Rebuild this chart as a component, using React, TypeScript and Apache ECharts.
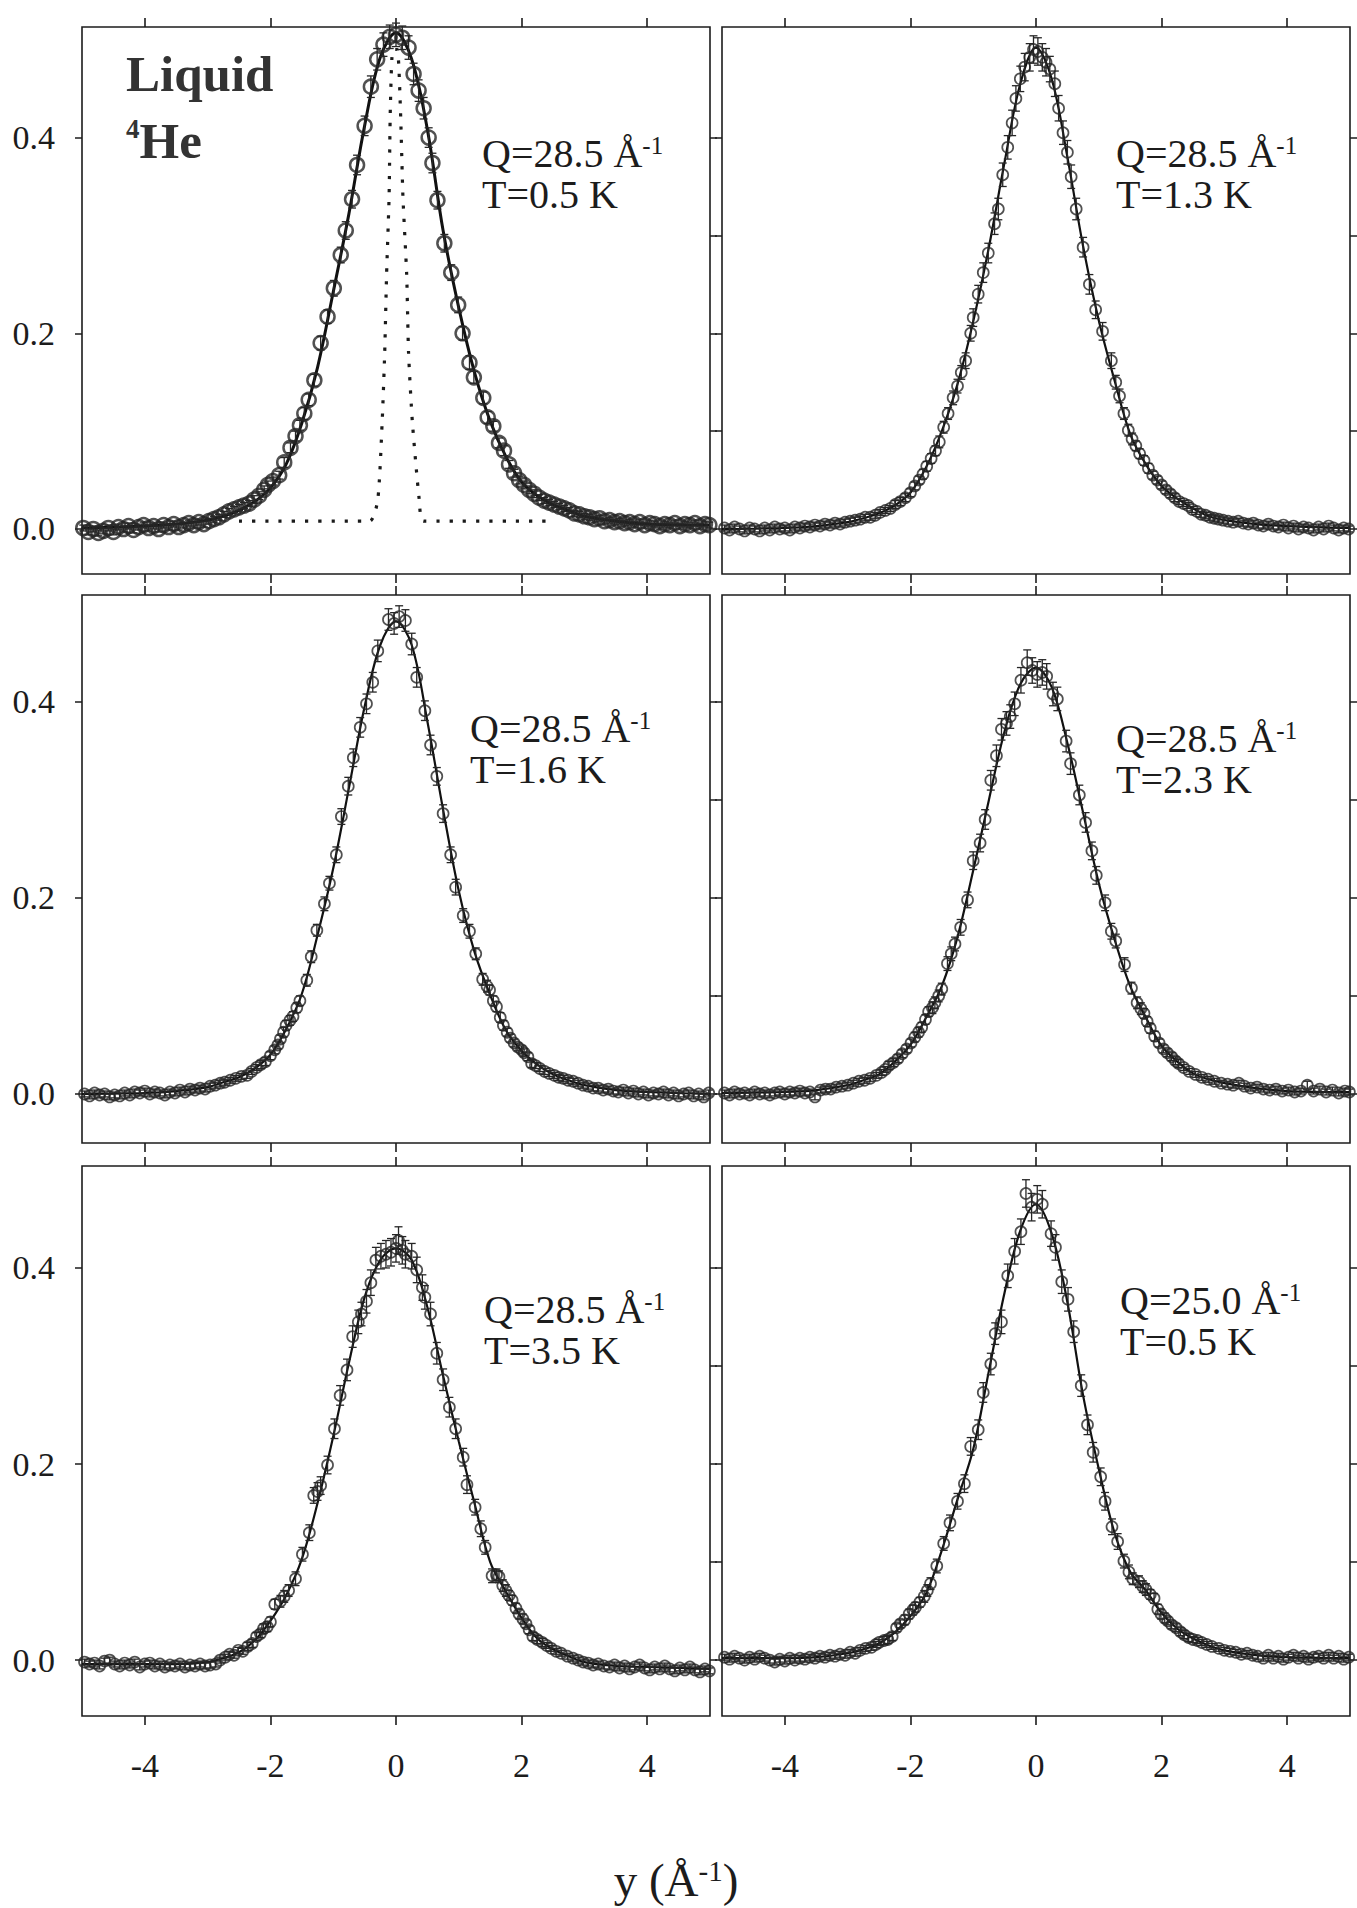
import React, { useEffect, useRef } from 'react';
import * as echarts from 'echarts';

type Pt = [number, number, number];
type Fp = [number, number];

const SERIF = '"Liberation Serif", "Times New Roman", serif';

const X_TICKS = [-4, -2, 0, 2, 4];
const Y_LABEL_TICKS = [0, 0.2, 0.4];
const Y_ALL_TICKS = [0, 0.1, 0.2, 0.3, 0.4];

const panelQ = ['28.5', '28.5', '28.5', '28.5', '28.5', '25.0'];
const panelT = ['0.5', '1.3', '1.6', '2.3', '3.5', '0.5'];

// ---------- Panel 1: Q=28.5, T=0.5 K ----------
const data_Q285_T05: Pt[] = [
  [-4.98, 0.001, 0.003], [-4.9, -0.003, 0.003], [-4.82, 0.0, 0.003], [-4.74, -0.004, 0.003], [-4.66, -0.002, 0.003],
  [-4.58, 0.001, 0.003], [-4.5, -0.003, 0.003], [-4.42, 0.002, 0.003], [-4.34, 0.0, 0.003], [-4.26, 0.003, 0.003],
  [-4.18, -0.001, 0.003], [-4.1, 0.002, 0.003], [-4.02, 0.004, 0.003], [-3.94, 0.001, 0.003], [-3.86, 0.003, 0.003],
  [-3.78, 0.0, 0.003], [-3.7, 0.004, 0.003], [-3.62, 0.002, 0.003], [-3.54, 0.005, 0.003], [-3.46, 0.002, 0.003],
  [-3.38, 0.004, 0.003], [-3.3, 0.006, 0.003], [-3.22, 0.004, 0.003], [-3.14, 0.007, 0.003], [-3.06, 0.005, 0.003],
  [-2.98, 0.008, 0.003], [-2.9, 0.01, 0.003], [-2.82, 0.012, 0.003], [-2.74, 0.015, 0.003], [-2.66, 0.018, 0.003],
  [-2.58, 0.02, 0.003], [-2.5, 0.022, 0.003], [-2.42, 0.024, 0.003], [-2.34, 0.026, 0.003], [-2.26, 0.03, 0.004],
  [-2.18, 0.034, 0.004], [-2.1, 0.04, 0.004], [-2.04, 0.045, 0.004], [-1.96, 0.049, 0.004], [-1.86, 0.055, 0.004],
  [-1.78, 0.068, 0.005], [-1.68, 0.083, 0.005], [-1.6, 0.095, 0.005], [-1.53, 0.106, 0.005], [-1.46, 0.118, 0.006],
  [-1.39, 0.132, 0.006], [-1.3, 0.152, 0.006], [-1.2, 0.19, 0.007], [-1.09, 0.217, 0.007], [-0.99, 0.246, 0.008],
  [-0.88, 0.28, 0.008], [-0.8, 0.305, 0.009], [-0.7, 0.337, 0.009], [-0.62, 0.372, 0.01], [-0.5, 0.412, 0.01],
  [-0.4, 0.452, 0.011], [-0.3, 0.48, 0.011], [-0.2, 0.495, 0.012], [-0.1, 0.503, 0.012], [0.0, 0.505, 0.012],
  [0.1, 0.502, 0.012], [0.2, 0.492, 0.012], [0.28, 0.465, 0.011], [0.36, 0.448, 0.011], [0.44, 0.43, 0.011],
  [0.52, 0.4, 0.01], [0.58, 0.374, 0.01], [0.66, 0.336, 0.009], [0.77, 0.292, 0.009], [0.88, 0.262, 0.008],
  [0.99, 0.229, 0.008], [1.06, 0.2, 0.007], [1.17, 0.17, 0.007], [1.24, 0.155, 0.006], [1.39, 0.134, 0.006],
  [1.46, 0.114, 0.006], [1.55, 0.105, 0.005], [1.64, 0.088, 0.005], [1.72, 0.08, 0.005], [1.8, 0.066, 0.004],
  [1.88, 0.057, 0.004], [1.96, 0.05, 0.004], [2.04, 0.045, 0.004], [2.12, 0.04, 0.004], [2.2, 0.036, 0.004],
  [2.28, 0.032, 0.003], [2.36, 0.029, 0.003], [2.44, 0.027, 0.003], [2.52, 0.025, 0.003], [2.6, 0.023, 0.003],
  [2.68, 0.021, 0.003], [2.76, 0.019, 0.003], [2.84, 0.016, 0.003], [2.92, 0.015, 0.003], [3.0, 0.013, 0.003],
  [3.08, 0.012, 0.003], [3.16, 0.01, 0.003], [3.24, 0.011, 0.003], [3.32, 0.008, 0.003], [3.4, 0.009, 0.003],
  [3.48, 0.007, 0.003], [3.56, 0.008, 0.003], [3.64, 0.006, 0.003], [3.72, 0.007, 0.003], [3.8, 0.005, 0.003],
  [3.88, 0.007, 0.003], [3.96, 0.004, 0.003], [4.04, 0.006, 0.003], [4.12, 0.005, 0.003], [4.2, 0.003, 0.003],
  [4.28, 0.005, 0.003], [4.36, 0.004, 0.003], [4.44, 0.006, 0.003], [4.52, 0.003, 0.003], [4.6, 0.005, 0.003],
  [4.68, 0.004, 0.003], [4.76, 0.006, 0.003], [4.84, 0.003, 0.003], [4.92, 0.005, 0.003], [4.99, 0.004, 0.003],
];
const fit_Q285_T05: Fp[] = [
  [-5, 0.001], [-4, 0.003], [-3.5, 0.005], [-3, 0.009], [-2.75, 0.013], [-2.5, 0.019], [-2.25, 0.028], [-2, 0.042],
  [-1.75, 0.066], [-1.5, 0.108], [-1.25, 0.165], [-1, 0.242], [-0.75, 0.322], [-0.5, 0.412], [-0.25, 0.482],
  [0, 0.507], [0.25, 0.48], [0.5, 0.408], [0.75, 0.305], [1, 0.226], [1.25, 0.16], [1.5, 0.11], [1.75, 0.074],
  [2, 0.048], [2.25, 0.034], [2.5, 0.025], [2.75, 0.019], [3, 0.013], [3.5, 0.008], [4, 0.005], [5, 0.004],
];
const condensate_Q285_T05: Fp[] = [
  [-2.5, 0.008], [-0.42, 0.008], [-0.29, 0.03], [-0.22, 0.11], [-0.18, 0.18], [-0.15, 0.26], [-0.11, 0.34],
  [-0.09, 0.43], [-0.05, 0.49], [0.02, 0.49], [0.07, 0.43], [0.11, 0.34], [0.17, 0.26], [0.2, 0.18], [0.26, 0.11],
  [0.37, 0.03], [0.44, 0.008], [2.5, 0.008],
];

// ---------- Panel 2: Q=28.5, T=1.3 K ----------
const data_Q285_T13: Pt[] = [
  [-4.96, 0.001, 0.003], [-4.88, -0.001, 0.003], [-4.8, 0.002, 0.003], [-4.72, 0.0, 0.003], [-4.64, -0.002, 0.003],
  [-4.56, 0.001, 0.003], [-4.48, 0.0, 0.003], [-4.4, -0.002, 0.003], [-4.32, 0.001, 0.003], [-4.24, -0.001, 0.003],
  [-4.16, 0.002, 0.003], [-4.08, 0.0, 0.003], [-4.0, 0.001, 0.003], [-3.92, -0.001, 0.003], [-3.84, 0.002, 0.003],
  [-3.76, 0.001, 0.003], [-3.68, 0.003, 0.003], [-3.6, 0.002, 0.003], [-3.52, 0.004, 0.003], [-3.44, 0.003, 0.003],
  [-3.36, 0.005, 0.003], [-3.28, 0.004, 0.003], [-3.2, 0.006, 0.003], [-3.12, 0.005, 0.003], [-3.04, 0.007, 0.003],
  [-2.96, 0.008, 0.003], [-2.88, 0.009, 0.003], [-2.8, 0.01, 0.003], [-2.72, 0.012, 0.003], [-2.64, 0.012, 0.003],
  [-2.56, 0.014, 0.003], [-2.48, 0.017, 0.003], [-2.4, 0.019, 0.003], [-2.32, 0.021, 0.003], [-2.24, 0.025, 0.004],
  [-2.16, 0.028, 0.004], [-2.08, 0.032, 0.004], [-2.0, 0.037, 0.004], [-1.93, 0.044, 0.004], [-1.86, 0.05, 0.004],
  [-1.8, 0.056, 0.005], [-1.74, 0.064, 0.005], [-1.67, 0.072, 0.005], [-1.6, 0.08, 0.005], [-1.54, 0.089, 0.006],
  [-1.47, 0.104, 0.006], [-1.4, 0.118, 0.006], [-1.32, 0.134, 0.007], [-1.25, 0.146, 0.007], [-1.19, 0.16, 0.007],
  [-1.12, 0.172, 0.008], [-1.04, 0.2, 0.008], [-1.0, 0.216, 0.009], [-0.92, 0.24, 0.009], [-0.84, 0.262, 0.01],
  [-0.76, 0.282, 0.01], [-0.66, 0.312, 0.011], [-0.6, 0.327, 0.011], [-0.53, 0.362, 0.012], [-0.45, 0.39, 0.012],
  [-0.38, 0.415, 0.013], [-0.32, 0.44, 0.013], [-0.25, 0.46, 0.013], [-0.18, 0.472, 0.014], [-0.1, 0.482, 0.014],
  [-0.04, 0.49, 0.014], [0.03, 0.488, 0.014], [0.1, 0.482, 0.014], [0.16, 0.477, 0.014], [0.22, 0.47, 0.013],
  [0.3, 0.455, 0.013], [0.36, 0.43, 0.013], [0.43, 0.405, 0.012], [0.5, 0.385, 0.012], [0.56, 0.36, 0.012],
  [0.64, 0.327, 0.011], [0.75, 0.288, 0.01], [0.85, 0.25, 0.01], [0.95, 0.224, 0.009], [1.06, 0.202, 0.009],
  [1.2, 0.172, 0.008], [1.27, 0.15, 0.007], [1.33, 0.136, 0.007], [1.4, 0.118, 0.006], [1.47, 0.101, 0.006],
  [1.53, 0.092, 0.006], [1.59, 0.085, 0.005], [1.65, 0.077, 0.005], [1.72, 0.07, 0.005], [1.79, 0.062, 0.005],
  [1.86, 0.055, 0.004], [1.93, 0.05, 0.004], [2.0, 0.045, 0.004], [2.07, 0.04, 0.004], [2.14, 0.036, 0.004],
  [2.21, 0.032, 0.004], [2.28, 0.028, 0.003], [2.35, 0.026, 0.003], [2.42, 0.024, 0.003], [2.49, 0.02, 0.003],
  [2.56, 0.018, 0.003], [2.63, 0.015, 0.003], [2.7, 0.014, 0.003], [2.77, 0.012, 0.003], [2.84, 0.011, 0.003],
  [2.91, 0.01, 0.003], [2.98, 0.009, 0.003], [3.06, 0.008, 0.003], [3.14, 0.007, 0.003], [3.22, 0.008, 0.003],
  [3.3, 0.006, 0.003], [3.38, 0.005, 0.003], [3.46, 0.006, 0.003], [3.54, 0.004, 0.003], [3.62, 0.003, 0.003],
  [3.7, 0.005, 0.003], [3.78, 0.003, 0.003], [3.86, 0.002, 0.003], [3.94, 0.004, 0.003], [4.02, 0.001, 0.003],
  [4.1, 0.003, 0.003], [4.18, 0.0, 0.003], [4.26, 0.002, 0.003], [4.34, 0.001, 0.003], [4.42, -0.001, 0.003],
  [4.5, 0.002, 0.003], [4.58, 0.0, 0.003], [4.66, 0.003, 0.003], [4.74, 0.001, 0.003], [4.82, -0.001, 0.003],
  [4.9, 0.001, 0.003], [4.98, 0.0, 0.003],
];
const fit_Q285_T13: Fp[] = [
  [-5, 0.0], [-4, 0.001], [-3.5, 0.003], [-3, 0.007], [-2.75, 0.011], [-2.5, 0.016], [-2.25, 0.024], [-2, 0.037],
  [-1.75, 0.063], [-1.5, 0.1], [-1.25, 0.148], [-1, 0.212], [-0.75, 0.288], [-0.5, 0.375], [-0.25, 0.455],
  [0, 0.492], [0.25, 0.46], [0.5, 0.38], [0.75, 0.289], [1, 0.213], [1.25, 0.152], [1.5, 0.097], [1.75, 0.066],
  [2, 0.044], [2.25, 0.031], [2.5, 0.021], [2.75, 0.013], [3, 0.009], [3.5, 0.005], [4, 0.003], [5, 0.001],
];

// ---------- Panel 3: Q=28.5, T=1.6 K ----------
const data_Q285_T16: Pt[] = [
  [-4.96, 0.0, 0.003], [-4.88, -0.002, 0.003], [-4.8, 0.001, 0.003], [-4.72, -0.001, 0.003], [-4.64, 0.0, 0.003],
  [-4.56, -0.003, 0.003], [-4.48, -0.001, 0.003], [-4.4, -0.002, 0.003], [-4.32, 0.001, 0.003], [-4.24, -0.001, 0.003],
  [-4.16, 0.002, 0.003], [-4.08, 0.001, 0.003], [-4.0, 0.003, 0.003], [-3.92, 0.0, 0.003], [-3.84, 0.002, 0.003],
  [-3.76, 0.001, 0.003], [-3.68, -0.001, 0.003], [-3.6, 0.002, 0.003], [-3.52, 0.001, 0.003], [-3.44, 0.004, 0.003],
  [-3.36, 0.002, 0.003], [-3.28, 0.005, 0.003], [-3.2, 0.004, 0.003], [-3.12, 0.006, 0.003], [-3.04, 0.005, 0.003],
  [-2.96, 0.008, 0.003], [-2.88, 0.009, 0.003], [-2.8, 0.011, 0.003], [-2.73, 0.012, 0.003], [-2.64, 0.014, 0.003],
  [-2.55, 0.016, 0.003], [-2.46, 0.018, 0.003], [-2.37, 0.019, 0.003], [-2.3, 0.023, 0.003], [-2.22, 0.027, 0.003],
  [-2.15, 0.03, 0.004], [-2.08, 0.033, 0.004], [-2.0, 0.039, 0.004], [-1.93, 0.045, 0.004], [-1.88, 0.05, 0.004],
  [-1.84, 0.056, 0.004], [-1.79, 0.063, 0.005], [-1.75, 0.07, 0.005], [-1.69, 0.075, 0.005], [-1.64, 0.079, 0.005],
  [-1.58, 0.088, 0.005], [-1.53, 0.095, 0.005], [-1.42, 0.116, 0.006], [-1.35, 0.14, 0.006], [-1.26, 0.167, 0.006],
  [-1.14, 0.194, 0.007], [-1.06, 0.215, 0.007], [-0.95, 0.244, 0.008], [-0.87, 0.283, 0.008], [-0.76, 0.314, 0.009],
  [-0.68, 0.343, 0.009], [-0.57, 0.374, 0.01], [-0.47, 0.398, 0.01], [-0.37, 0.42, 0.01], [-0.29, 0.452, 0.011],
  [-0.12, 0.484, 0.011], [-0.03, 0.48, 0.011], [0.05, 0.487, 0.011], [0.15, 0.483, 0.011], [0.25, 0.459, 0.011],
  [0.33, 0.425, 0.01], [0.46, 0.391, 0.01], [0.55, 0.356, 0.01], [0.65, 0.324, 0.009], [0.75, 0.286, 0.009],
  [0.87, 0.244, 0.008], [0.95, 0.211, 0.008], [1.07, 0.182, 0.007], [1.17, 0.166, 0.007], [1.27, 0.143, 0.006],
  [1.38, 0.117, 0.006], [1.45, 0.11, 0.006], [1.49, 0.106, 0.005], [1.55, 0.095, 0.005], [1.6, 0.089, 0.005],
  [1.66, 0.078, 0.005], [1.71, 0.07, 0.005], [1.77, 0.063, 0.004], [1.82, 0.057, 0.004], [1.88, 0.052, 0.004],
  [1.94, 0.048, 0.004], [2.0, 0.045, 0.004], [2.04, 0.042, 0.004], [2.1, 0.038, 0.004], [2.16, 0.031, 0.004],
  [2.22, 0.029, 0.003], [2.29, 0.026, 0.003], [2.37, 0.023, 0.003], [2.44, 0.021, 0.003], [2.52, 0.019, 0.003],
  [2.59, 0.017, 0.003], [2.66, 0.016, 0.003], [2.74, 0.014, 0.003], [2.82, 0.013, 0.003], [2.9, 0.011, 0.003],
  [2.98, 0.009, 0.003], [3.06, 0.008, 0.003], [3.14, 0.006, 0.003], [3.22, 0.006, 0.003], [3.3, 0.004, 0.003],
  [3.38, 0.005, 0.003], [3.46, 0.003, 0.003], [3.54, 0.002, 0.003], [3.62, 0.004, 0.003], [3.7, 0.001, 0.003],
  [3.78, 0.003, 0.003], [3.86, 0.0, 0.003], [3.94, 0.002, 0.003], [4.02, -0.001, 0.003], [4.1, 0.001, 0.003],
  [4.18, 0.0, 0.003], [4.26, 0.002, 0.003], [4.34, -0.001, 0.003], [4.42, 0.001, 0.003], [4.5, -0.002, 0.003],
  [4.58, 0.0, 0.003], [4.66, 0.001, 0.003], [4.74, -0.002, 0.003], [4.82, 0.0, 0.003], [4.9, -0.003, 0.003],
  [4.98, 0.001, 0.003],
];
const fit_Q285_T16: Fp[] = [
  [-5, 0.0], [-4, 0.001], [-3.5, 0.003], [-3, 0.007], [-2.75, 0.012], [-2.5, 0.017], [-2.25, 0.026], [-2, 0.04],
  [-1.75, 0.066], [-1.5, 0.102], [-1.25, 0.162], [-1, 0.23], [-0.75, 0.312], [-0.5, 0.395], [-0.25, 0.458],
  [0, 0.482], [0.25, 0.458], [0.5, 0.38], [0.75, 0.29], [1, 0.207], [1.25, 0.145], [1.5, 0.101], [1.75, 0.065],
  [2, 0.044], [2.25, 0.03], [2.5, 0.02], [2.75, 0.014], [3, 0.009], [3.5, 0.004], [4, 0.002], [5, 0.0],
];

// ---------- Panel 4: Q=28.5, T=2.3 K ----------
const data_Q285_T23: Pt[] = [
  [-4.96, 0.001, 0.003], [-4.88, -0.001, 0.003], [-4.8, 0.002, 0.003], [-4.72, 0.0, 0.003], [-4.64, 0.001, 0.003],
  [-4.56, -0.001, 0.003], [-4.48, 0.002, 0.003], [-4.4, 0.0, 0.003], [-4.32, 0.001, 0.003], [-4.24, -0.001, 0.003],
  [-4.16, 0.001, 0.003], [-4.08, 0.002, 0.003], [-4.0, 0.0, 0.003], [-3.92, 0.002, 0.003], [-3.84, 0.001, 0.003],
  [-3.76, 0.003, 0.003], [-3.68, 0.001, 0.003], [-3.6, 0.002, 0.003], [-3.52, -0.003, 0.003], [-3.43, 0.004, 0.003],
  [-3.35, 0.005, 0.003], [-3.27, 0.005, 0.003], [-3.18, 0.007, 0.003], [-3.09, 0.008, 0.003], [-3.0, 0.009, 0.003],
  [-2.91, 0.011, 0.003], [-2.82, 0.013, 0.003], [-2.73, 0.014, 0.003], [-2.64, 0.016, 0.003], [-2.54, 0.019, 0.003],
  [-2.46, 0.022, 0.003], [-2.4, 0.025, 0.003], [-2.34, 0.029, 0.004], [-2.27, 0.032, 0.004], [-2.2, 0.036, 0.004],
  [-2.13, 0.041, 0.004], [-2.06, 0.046, 0.004], [-1.99, 0.052, 0.004], [-1.93, 0.058, 0.005], [-1.87, 0.063, 0.005],
  [-1.82, 0.068, 0.005], [-1.76, 0.076, 0.005], [-1.71, 0.084, 0.005], [-1.65, 0.088, 0.006], [-1.61, 0.093, 0.006],
  [-1.55, 0.1, 0.006], [-1.5, 0.107, 0.006], [-1.41, 0.133, 0.007], [-1.35, 0.143, 0.007], [-1.29, 0.153, 0.007],
  [-1.2, 0.17, 0.008], [-1.09, 0.198, 0.008], [-1.0, 0.238, 0.009], [-0.89, 0.256, 0.009], [-0.81, 0.28, 0.01],
  [-0.72, 0.32, 0.01], [-0.63, 0.345, 0.011], [-0.55, 0.372, 0.011], [-0.47, 0.378, 0.012], [-0.41, 0.385, 0.012],
  [-0.34, 0.398, 0.012], [-0.24, 0.422, 0.013], [-0.14, 0.44, 0.013], [-0.06, 0.432, 0.013], [0.02, 0.428, 0.013],
  [0.1, 0.43, 0.013], [0.17, 0.426, 0.013], [0.27, 0.408, 0.012], [0.34, 0.403, 0.012], [0.48, 0.36, 0.011],
  [0.55, 0.337, 0.011], [0.69, 0.305, 0.01], [0.79, 0.277, 0.01], [0.89, 0.248, 0.009], [0.96, 0.223, 0.009],
  [1.1, 0.195, 0.008], [1.2, 0.166, 0.008], [1.27, 0.156, 0.007], [1.41, 0.132, 0.007], [1.52, 0.108, 0.006],
  [1.61, 0.093, 0.006], [1.67, 0.087, 0.006], [1.72, 0.082, 0.005], [1.77, 0.074, 0.005], [1.82, 0.067, 0.005],
  [1.89, 0.059, 0.005], [1.96, 0.052, 0.004], [2.03, 0.046, 0.004], [2.09, 0.042, 0.004], [2.16, 0.038, 0.004],
  [2.22, 0.034, 0.004], [2.27, 0.031, 0.004], [2.35, 0.027, 0.003], [2.44, 0.023, 0.003], [2.54, 0.02, 0.003],
  [2.64, 0.017, 0.003], [2.74, 0.015, 0.003], [2.84, 0.013, 0.003], [2.95, 0.011, 0.003], [3.05, 0.01, 0.003],
  [3.14, 0.009, 0.003], [3.23, 0.011, 0.003], [3.32, 0.008, 0.003], [3.42, 0.006, 0.003], [3.52, 0.007, 0.003],
  [3.62, 0.005, 0.003], [3.72, 0.004, 0.003], [3.82, 0.005, 0.003], [3.92, 0.003, 0.003], [4.02, 0.004, 0.003],
  [4.12, 0.002, 0.003], [4.22, 0.003, 0.003], [4.32, 0.009, 0.004], [4.42, 0.003, 0.003], [4.52, 0.005, 0.003],
  [4.62, 0.002, 0.003], [4.72, 0.004, 0.003], [4.82, 0.001, 0.003], [4.92, 0.003, 0.003], [4.99, 0.002, 0.003],
];
const fit_Q285_T23: Fp[] = [
  [-5, 0.001], [-4, 0.002], [-3.5, 0.004], [-3, 0.009], [-2.75, 0.014], [-2.5, 0.02], [-2.25, 0.033], [-2, 0.05],
  [-1.75, 0.078], [-1.5, 0.11], [-1.25, 0.16], [-1, 0.228], [-0.75, 0.3], [-0.5, 0.37], [-0.25, 0.418],
  [0, 0.435], [0.25, 0.415], [0.5, 0.358], [0.75, 0.287], [1, 0.215], [1.25, 0.158], [1.5, 0.11], [1.75, 0.078],
  [2, 0.049], [2.25, 0.033], [2.5, 0.021], [2.75, 0.015], [3, 0.011], [3.5, 0.006], [4, 0.003], [5, 0.002],
];

// ---------- Panel 5: Q=28.5, T=3.5 K ----------
const data_Q285_T35: Pt[] = [
  [-4.96, -0.002, 0.003], [-4.88, -0.004, 0.003], [-4.8, -0.003, 0.003], [-4.72, -0.006, 0.003], [-4.64, -0.001, 0.003],
  [-4.56, 0.0, 0.003], [-4.48, -0.004, 0.003], [-4.4, -0.006, 0.003], [-4.32, -0.003, 0.003], [-4.24, -0.005, 0.003],
  [-4.16, -0.002, 0.003], [-4.08, -0.007, 0.003], [-4.0, -0.004, 0.003], [-3.92, -0.003, 0.003], [-3.84, -0.006, 0.003],
  [-3.76, -0.004, 0.003], [-3.68, -0.007, 0.003], [-3.6, -0.005, 0.003], [-3.52, -0.006, 0.003], [-3.44, -0.004, 0.003],
  [-3.36, -0.007, 0.003], [-3.28, -0.005, 0.003], [-3.2, -0.006, 0.003], [-3.12, -0.004, 0.003], [-3.04, -0.006, 0.003],
  [-2.96, -0.005, 0.003], [-2.87, -0.004, 0.003], [-2.8, 0.0, 0.003], [-2.72, 0.003, 0.003], [-2.65, 0.006, 0.003],
  [-2.58, 0.005, 0.003], [-2.51, 0.01, 0.003], [-2.44, 0.009, 0.003], [-2.36, 0.014, 0.004], [-2.29, 0.017, 0.004],
  [-2.22, 0.024, 0.004], [-2.16, 0.027, 0.004], [-2.11, 0.032, 0.005], [-2.05, 0.034, 0.005], [-2.0, 0.039, 0.005],
  [-1.93, 0.057, 0.005], [-1.84, 0.06, 0.006], [-1.78, 0.065, 0.006], [-1.71, 0.071, 0.006], [-1.6, 0.083, 0.007],
  [-1.49, 0.108, 0.007], [-1.38, 0.13, 0.008], [-1.31, 0.168, 0.008], [-1.25, 0.172, 0.009], [-1.2, 0.178, 0.009],
  [-1.09, 0.199, 0.009], [-0.98, 0.236, 0.01], [-0.89, 0.27, 0.01], [-0.78, 0.296, 0.011], [-0.69, 0.33, 0.011],
  [-0.6, 0.345, 0.012], [-0.55, 0.353, 0.012], [-0.47, 0.366, 0.012], [-0.4, 0.385, 0.013], [-0.32, 0.408, 0.013],
  [-0.24, 0.412, 0.013], [-0.16, 0.414, 0.014], [-0.08, 0.416, 0.014], [0.0, 0.42, 0.014], [0.04, 0.428, 0.014],
  [0.1, 0.418, 0.014], [0.15, 0.414, 0.014], [0.25, 0.412, 0.013], [0.33, 0.398, 0.013], [0.42, 0.38, 0.013],
  [0.46, 0.37, 0.012], [0.55, 0.353, 0.012], [0.65, 0.313, 0.011], [0.75, 0.286, 0.011], [0.85, 0.258, 0.01],
  [0.95, 0.236, 0.01], [1.07, 0.207, 0.009], [1.13, 0.179, 0.009], [1.26, 0.156, 0.008], [1.35, 0.134, 0.008],
  [1.42, 0.115, 0.007], [1.53, 0.086, 0.007], [1.6, 0.087, 0.006], [1.64, 0.085, 0.006], [1.7, 0.076, 0.006],
  [1.75, 0.071, 0.006], [1.8, 0.066, 0.005], [1.85, 0.061, 0.005], [1.91, 0.053, 0.005], [1.96, 0.047, 0.005],
  [2.02, 0.042, 0.005], [2.07, 0.037, 0.004], [2.12, 0.031, 0.004], [2.18, 0.024, 0.004], [2.25, 0.021, 0.004],
  [2.33, 0.018, 0.004], [2.4, 0.015, 0.003], [2.47, 0.012, 0.003], [2.55, 0.009, 0.003], [2.63, 0.007, 0.003],
  [2.73, 0.004, 0.003], [2.82, 0.002, 0.003], [2.9, 0.0, 0.003], [2.98, -0.002, 0.003], [3.06, -0.003, 0.003],
  [3.14, -0.005, 0.003], [3.22, -0.004, 0.003], [3.31, -0.006, 0.003], [3.4, -0.007, 0.003], [3.48, -0.005, 0.003],
  [3.56, -0.008, 0.003], [3.64, -0.006, 0.003], [3.72, -0.009, 0.003], [3.8, -0.007, 0.003], [3.88, -0.005, 0.003],
  [3.96, -0.008, 0.003], [4.04, -0.01, 0.003], [4.12, -0.007, 0.003], [4.2, -0.009, 0.003], [4.28, -0.006, 0.003],
  [4.36, -0.009, 0.003], [4.44, -0.011, 0.003], [4.52, -0.008, 0.003], [4.6, -0.01, 0.003], [4.68, -0.007, 0.003],
  [4.76, -0.01, 0.003], [4.84, -0.012, 0.003], [4.92, -0.009, 0.003], [4.99, -0.011, 0.003],
];
const fit_Q285_T35: Fp[] = [
  [-5, -0.004], [-4, -0.004], [-3.5, -0.004], [-3, -0.002], [-2.75, 0.002], [-2.5, 0.008], [-2.25, 0.02], [-2, 0.04],
  [-1.75, 0.066], [-1.5, 0.103], [-1.25, 0.16], [-1, 0.228], [-0.75, 0.303], [-0.5, 0.37], [-0.25, 0.408],
  [0, 0.42], [0.25, 0.408], [0.5, 0.36], [0.75, 0.29], [1, 0.223], [1.25, 0.16], [1.5, 0.1], [1.75, 0.07],
  [2, 0.043], [2.25, 0.022], [2.5, 0.011], [2.75, 0.004], [3, -0.002], [3.5, -0.006], [4, -0.007], [5, -0.009],
];

// ---------- Panel 6: Q=25.0, T=0.5 K ----------
const data_Q250_T05: Pt[] = [
  [-4.96, 0.003, 0.003], [-4.88, 0.001, 0.003], [-4.8, 0.004, 0.003], [-4.72, 0.002, 0.003], [-4.64, 0.0, 0.003],
  [-4.56, 0.003, 0.003], [-4.48, 0.001, 0.003], [-4.4, 0.004, 0.003], [-4.32, 0.002, 0.003], [-4.24, 0.0, 0.003],
  [-4.16, -0.002, 0.003], [-4.08, 0.001, 0.003], [-4.0, -0.001, 0.003], [-3.92, 0.002, 0.003], [-3.84, 0.0, 0.003],
  [-3.76, 0.002, 0.003], [-3.68, 0.001, 0.003], [-3.6, 0.003, 0.003], [-3.52, 0.002, 0.003], [-3.44, 0.004, 0.003],
  [-3.36, 0.003, 0.003], [-3.28, 0.005, 0.003], [-3.2, 0.004, 0.003], [-3.12, 0.006, 0.003], [-3.04, 0.005, 0.003],
  [-2.96, 0.008, 0.003], [-2.88, 0.007, 0.003], [-2.8, 0.01, 0.003], [-2.71, 0.012, 0.003], [-2.62, 0.013, 0.003],
  [-2.55, 0.016, 0.003], [-2.5, 0.018, 0.003], [-2.42, 0.02, 0.004], [-2.36, 0.021, 0.004], [-2.29, 0.024, 0.004],
  [-2.22, 0.033, 0.004], [-2.16, 0.037, 0.004], [-2.09, 0.041, 0.005], [-2.02, 0.047, 0.005], [-1.96, 0.051, 0.005],
  [-1.92, 0.054, 0.005], [-1.85, 0.059, 0.005], [-1.78, 0.065, 0.006], [-1.73, 0.071, 0.006], [-1.68, 0.078, 0.006],
  [-1.58, 0.096, 0.007], [-1.47, 0.119, 0.007], [-1.37, 0.14, 0.008], [-1.25, 0.162, 0.008], [-1.14, 0.18, 0.009],
  [-1.04, 0.218, 0.009], [-0.92, 0.235, 0.01], [-0.84, 0.273, 0.01], [-0.72, 0.302, 0.011], [-0.65, 0.333, 0.011],
  [-0.55, 0.345, 0.012], [-0.45, 0.392, 0.012], [-0.34, 0.417, 0.013], [-0.24, 0.437, 0.013], [-0.16, 0.476, 0.014],
  [-0.07, 0.462, 0.014], [0.02, 0.47, 0.014], [0.1, 0.465, 0.014], [0.24, 0.435, 0.013], [0.31, 0.421, 0.013],
  [0.41, 0.386, 0.012], [0.51, 0.368, 0.012], [0.6, 0.335, 0.011], [0.72, 0.28, 0.011], [0.82, 0.24, 0.01],
  [0.91, 0.212, 0.01], [1.03, 0.187, 0.009], [1.1, 0.162, 0.009], [1.21, 0.136, 0.008], [1.3, 0.121, 0.008],
  [1.4, 0.101, 0.007], [1.48, 0.09, 0.007], [1.54, 0.083, 0.006], [1.64, 0.08, 0.006], [1.7, 0.075, 0.006],
  [1.75, 0.072, 0.006], [1.82, 0.067, 0.005], [1.88, 0.063, 0.005], [1.94, 0.052, 0.005], [1.99, 0.047, 0.005],
  [2.05, 0.043, 0.005], [2.1, 0.04, 0.004], [2.16, 0.036, 0.004], [2.23, 0.033, 0.004], [2.3, 0.029, 0.004],
  [2.36, 0.026, 0.004], [2.43, 0.023, 0.004], [2.5, 0.021, 0.003], [2.57, 0.02, 0.003], [2.64, 0.018, 0.003],
  [2.72, 0.016, 0.003], [2.8, 0.014, 0.003], [2.91, 0.012, 0.003], [3.0, 0.01, 0.003], [3.09, 0.009, 0.003],
  [3.18, 0.008, 0.003], [3.27, 0.006, 0.003], [3.36, 0.007, 0.003], [3.45, 0.005, 0.003], [3.53, 0.004, 0.003],
  [3.62, 0.002, 0.003], [3.7, 0.005, 0.003], [3.78, 0.002, 0.003], [3.86, 0.004, 0.003], [3.94, 0.001, 0.003],
  [4.02, 0.003, 0.003], [4.1, 0.005, 0.003], [4.18, 0.002, 0.003], [4.26, 0.004, 0.003], [4.34, 0.001, 0.003],
  [4.42, 0.003, 0.003], [4.5, 0.004, 0.003], [4.58, 0.002, 0.003], [4.66, 0.005, 0.003], [4.74, 0.002, 0.003],
  [4.82, 0.004, 0.003], [4.9, 0.001, 0.003], [4.98, 0.003, 0.003],
];
const fit_Q250_T05: Fp[] = [
  [-5, 0.002], [-4, 0.002], [-3.5, 0.003], [-3, 0.007], [-2.75, 0.011], [-2.5, 0.017], [-2.25, 0.028], [-2, 0.045],
  [-1.75, 0.068], [-1.5, 0.112], [-1.25, 0.164], [-1, 0.215], [-0.75, 0.295], [-0.5, 0.375], [-0.25, 0.438],
  [0, 0.465], [0.25, 0.435], [0.5, 0.365], [0.75, 0.27], [1, 0.195], [1.25, 0.13], [1.5, 0.09], [1.75, 0.071],
  [2, 0.048], [2.25, 0.032], [2.5, 0.022], [2.75, 0.015], [3, 0.01], [3.5, 0.005], [4, 0.003], [5, 0.002],
];

const panelData = [data_Q285_T05, data_Q285_T13, data_Q285_T16, data_Q285_T23, data_Q285_T35, data_Q250_T05];
const panelFit = [fit_Q285_T05, fit_Q285_T13, fit_Q285_T16, fit_Q285_T23, fit_Q285_T35, fit_Q250_T05];

// y-axis ranges per row, read from the frame edges
const rowYMin = [-0.046, -0.05, -0.057];
const rowYMax = [0.513, 0.509, 0.504];

// ---------- layout (not data) ----------
const COL_LEFT = [82, 722];
const PANEL_W = 628;
const ROW_TOP = [27, 595, 1166];
const ROW_H = [547, 548, 550];
const LABEL_POS: [number, number][] = [
  [482, 153], [1116, 153], [470, 728], [1116, 738], [484, 1309], [1120, 1300],
];

const INK = '#1c1c1c';

function buildOption() {
  const grid: any[] = [];
  const xAxis: any[] = [];
  const yAxis: any[] = [];
  const series: any[] = [];
  const graphic: any[] = [];

  for (let i = 0; i < 6; i++) {
    const row = Math.floor(i / 2);
    const col = i % 2;
    grid.push({
      left: COL_LEFT[col], top: ROW_TOP[row], width: PANEL_W, height: ROW_H[row],
      show: true, borderColor: INK, borderWidth: 1.6, backgroundColor: 'transparent',
    });
    const xBase = {
      type: 'value', gridIndex: i, min: -5, max: 5,
      axisLine: { show: false, onZero: false },
      splitLine: { show: false },
      axisTick: { show: true, inside: false, length: 9, customValues: X_TICKS, lineStyle: { color: INK, width: 1.6 } },
    };
    xAxis.push({
      ...xBase, position: 'bottom',
      axisLabel: { show: row === 2, customValues: X_TICKS, fontSize: 34, fontFamily: SERIF, color: INK, margin: 32 },
    });
    xAxis.push({ ...xBase, position: 'top', axisLabel: { show: false } });
    const yBase = {
      type: 'value', gridIndex: i, min: rowYMin[row], max: rowYMax[row],
      axisLine: { show: false, onZero: false },
      splitLine: { show: false },
    };
    yAxis.push({
      ...yBase, position: 'left',
      axisTick: { show: true, inside: false, length: 7, customValues: col === 0 ? Y_LABEL_TICKS : Y_ALL_TICKS, lineStyle: { color: INK, width: 1.5 } },
      axisLabel: {
        show: col === 0, customValues: Y_LABEL_TICKS, fontSize: 34, fontFamily: SERIF, color: INK, margin: 27,
        formatter: (v: number) => v.toFixed(1),
      },
    });
    yAxis.push({
      ...yBase, position: 'right',
      axisTick: { show: true, inside: false, length: 7, customValues: Y_ALL_TICKS, lineStyle: { color: INK, width: 1.5 } },
      axisLabel: { show: false },
    });

    const xi = 2 * i;
    const yi = 2 * i;
    const bold = i === 0;
    series.push({
      type: 'line', xAxisIndex: xi, yAxisIndex: yi, data: panelFit[i], showSymbol: false, smooth: 0.35,
      lineStyle: { color: '#111', width: bold ? 3 : 2.2 }, z: 3, silent: true,
    });
    series.push({
      type: 'scatter', xAxisIndex: xi, yAxisIndex: yi, data: panelData[i], encode: { x: 0, y: 1 },
      symbol: 'circle', symbolSize: bold ? 14 : 11,
      itemStyle: { color: 'rgba(0,0,0,0)', borderColor: '#262626', borderWidth: bold ? 2.5 : 1.7 },
      z: 4, silent: true,
    });
    series.push({
      type: 'custom', xAxisIndex: xi, yAxisIndex: yi, data: panelData[i], encode: { x: 0, y: 1 }, z: 5, silent: true,
      renderItem: (_p: any, api: any) => {
        const x = api.value(0), y = api.value(1), e = api.value(2);
        const a = api.coord([x, y + e]);
        const b = api.coord([x, y - e]);
        const cap = 4;
        const st = { stroke: '#262626', lineWidth: 1.3 };
        return {
          type: 'group',
          children: [
            { type: 'line', shape: { x1: a[0], y1: a[1], x2: b[0], y2: b[1] }, style: st },
            { type: 'line', shape: { x1: a[0] - cap, y1: a[1], x2: a[0] + cap, y2: a[1] }, style: st },
            { type: 'line', shape: { x1: b[0] - cap, y1: b[1], x2: b[0] + cap, y2: b[1] }, style: st },
          ],
        };
      },
    });
    if (i === 0) {
      series.push({
        type: 'line', xAxisIndex: xi, yAxisIndex: yi, data: condensate_Q285_T05, showSymbol: false, smooth: 0.2,
        lineStyle: { color: '#1a1a1a', width: 3.2, type: [3.2, 10] }, z: 2, silent: true,
      });
    }

    const [lx, ly] = LABEL_POS[i];
    graphic.push({
      type: 'text', x: lx, y: ly, silent: true,
      style: {
        text: `{m|Q=${panelQ[i]} Å}{s|-1}`,
        verticalAlign: 'middle', align: 'left',
        rich: {
          m: { fontSize: 40, fontFamily: SERIF, fill: INK },
          s: { fontSize: 25, fontFamily: SERIF, fill: INK, verticalAlign: 'top' },
        },
      },
    });
    graphic.push({
      type: 'text', x: lx, y: ly + 41, silent: true,
      style: { text: `T=${panelT[i]} K`, fontSize: 40, fontFamily: SERIF, fill: INK, verticalAlign: 'middle', align: 'left' },
    });
  }

  graphic.push({
    type: 'text', x: 126, y: 74, silent: true,
    style: { text: 'Liquid', fontSize: 51, fontWeight: 'bold', fontFamily: SERIF, fill: '#333', verticalAlign: 'middle', align: 'left' },
  });
  graphic.push({
    type: 'text', x: 126, y: 141, silent: true,
    style: {
      text: '{s|4}{b|He}', verticalAlign: 'middle', align: 'left',
      rich: {
        s: { fontSize: 27, fontWeight: 'bold', fontFamily: SERIF, fill: '#333', verticalAlign: 'top' },
        b: { fontSize: 51, fontWeight: 'bold', fontFamily: SERIF, fill: '#333' },
      },
    },
  });
  graphic.push({
    type: 'text', x: 676, y: 1880, silent: true,
    style: {
      text: '{m|y (Å}{s|-1}{m|)}', verticalAlign: 'middle', align: 'center',
      rich: {
        m: { fontSize: 47, fontFamily: SERIF, fill: INK },
        s: { fontSize: 29, fontFamily: SERIF, fill: INK, verticalAlign: 'top' },
      },
    },
  });

  return {
    animation: false,
    backgroundColor: '#ffffff',
    grid, xAxis, yAxis, series, graphic,
  };
}

export default function App() {
  const ref = useRef<HTMLDivElement>(null);
  useEffect(() => {
    document.body.style.margin = '0';
    if (!ref.current) return;
    const chart = echarts.init(ref.current, undefined, { renderer: 'svg' });
    chart.setOption(buildOption() as any);
    return () => chart.dispose();
  }, []);
  return <div ref={ref} style={{ position: 'fixed', left: 0, top: 0, width: 1357, height: 1908, background: '#fff' }} />;
}
